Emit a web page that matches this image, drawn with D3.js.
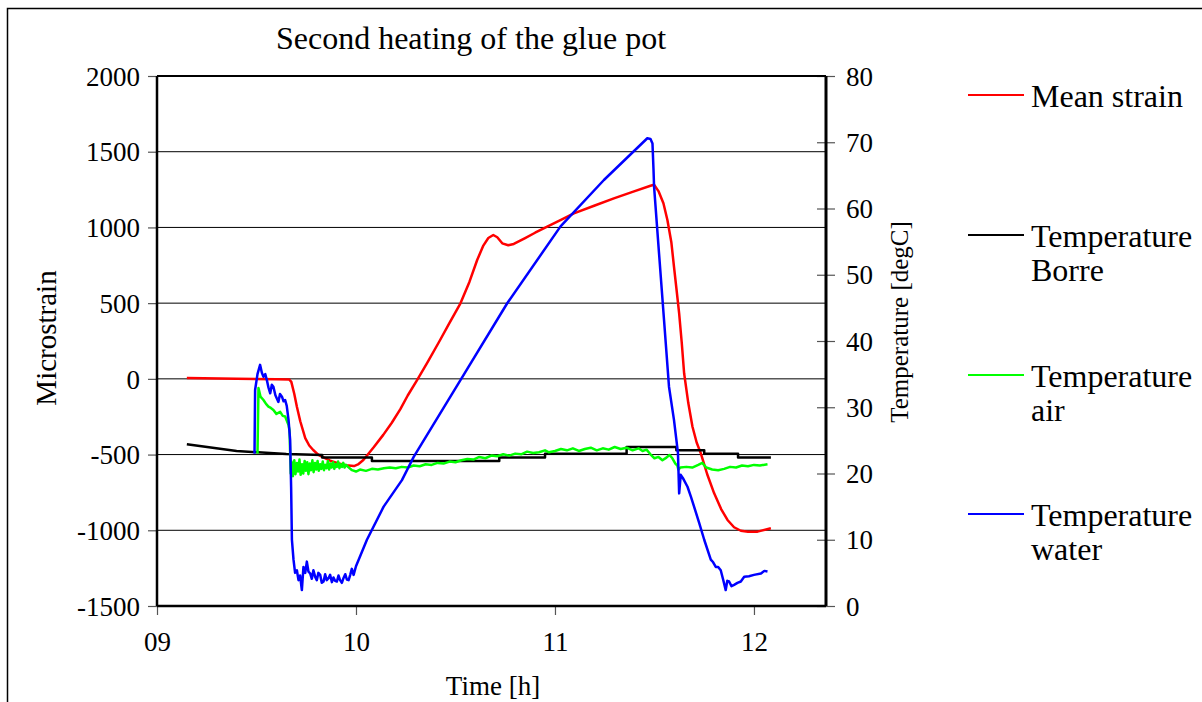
<!DOCTYPE html>
<html>
<head>
<meta charset="utf-8">
<script src="https://cdn.jsdelivr.net/npm/d3@7"></script>
<style>
  body { margin: 0; background: #fff; }
  text { font-family: "Liberation Serif", "Times New Roman", serif; fill: #000; }
</style>
</head>
<body>
<div id="chart"></div>
<script>
// Data: [time in hours, value]
var strainTicks = [-1500, -1000, -500, 0, 500, 1000, 1500, 2000];
var tempTicks = [0, 10, 20, 30, 40, 50, 60, 70, 80];
var timeTicks = [9, 10, 11, 12];
var timeLabels = ["09", "10", "11", "12"];

var meanStrain = [
  [9.15, 5], [9.40, 0], [9.60, -3], [9.665, -5], [9.675, -20], [9.69, -100], [9.703, -184],
  [9.72, -280], [9.745, -391], [9.765, -440], [9.785, -470], [9.81, -500], [9.829, -514],
  [9.87, -540], [9.904, -556], [9.95, -570], [9.99, -576], [10.01, -565], [10.037, -536],
  [10.09, -450], [10.137, -370], [10.18, -290], [10.223, -200], [10.26, -110], [10.307, -8],
  [10.36, 110], [10.42, 250], [10.47, 370], [10.525, 499], [10.57, 640], [10.609, 785],
  [10.64, 880], [10.665, 930], [10.69, 950], [10.71, 935], [10.735, 895], [10.765, 882],
  [10.793, 891], [10.85, 930], [10.9, 965], [10.961, 1005], [11.03, 1050], [11.095, 1093],
  [11.2, 1145], [11.296, 1192], [11.39, 1235], [11.48, 1275], [11.498, 1282], [11.52, 1240],
  [11.545, 1160], [11.565, 1049], [11.585, 900], [11.598, 741], [11.61, 600], [11.624, 433],
  [11.637, 240], [11.649, 37], [11.67, -160], [11.691, -316], [11.712, -420], [11.733, -492],
  [11.765, -630], [11.8, -756], [11.835, -860], [11.867, -932], [11.9, -980], [11.934, -1003],
  [11.97, -1010], [12.018, -1009], [12.085, -987]
];

var tempBorre = [
  [9.15, 24.4], [9.40, 23.4], [9.65, 22.95], [9.83, 22.8], [9.83, 22.4], [10.08, 22.4],
  [10.08, 21.9], [10.72, 21.9], [10.72, 22.4], [10.95, 22.4], [10.95, 23.0], [11.36, 23.0],
  [11.36, 24.0], [11.61, 24.0], [11.61, 23.5], [11.75, 23.5], [11.75, 23.0], [11.92, 23.0],
  [11.92, 22.4], [12.085, 22.4]
];

var tempAir = [
  [9.505, 23.0], [9.51, 32.9], [9.52, 31.6], [9.535, 31.1], [9.548, 30.5], [9.56, 30.1],
  [9.572, 29.9], [9.585, 29.6], [9.60, 29.0], [9.619, 29.3], [9.632, 28.7], [9.644, 28.6],
  [9.652, 28.0], [9.661, 27.3], [9.666, 26.5], [9.672, 20.0],
  [9.676, 21.8], [9.683, 19.6], [9.69, 22.0], [9.696, 19.9], [9.703, 21.6], [9.709, 20.3],
  [9.716, 22.1], [9.722, 19.8], [9.729, 21.4], [9.735, 20.0], [9.742, 21.9], [9.748, 20.4],
  [9.755, 21.7], [9.761, 19.9], [9.768, 21.5], [9.774, 20.5], [9.781, 22.0], [9.787, 20.2],
  [9.794, 21.6], [9.80, 20.6], [9.807, 21.9], [9.813, 20.4], [9.82, 21.4], [9.826, 20.7],
  [9.833, 21.8], [9.839, 20.5], [9.846, 21.3], [9.852, 20.8], [9.859, 21.9], [9.865, 20.6],
  [9.872, 21.5], [9.878, 20.9], [9.885, 21.7], [9.891, 20.7], [9.898, 21.4], [9.904, 21.0],
  [9.91, 21.8], [9.917, 20.8], [9.923, 21.4], [9.93, 21.0], [9.936, 21.6], [9.943, 20.9],
  [9.95, 21.3], [9.96, 21.0], [9.98, 20.5], [10.0, 20.3], [10.02, 20.6], [10.05, 20.4],
  [10.08, 20.7], [10.11, 20.6], [10.14, 20.8], [10.17, 20.9], [10.2, 20.8], [10.23, 21.0],
  [10.26, 20.9], [10.29, 21.2], [10.32, 21.1], [10.35, 21.4], [10.38, 21.3], [10.41, 21.6],
  [10.44, 21.5], [10.47, 21.8], [10.5, 21.7], [10.53, 22.0], [10.56, 22.2], [10.59, 22.1],
  [10.62, 22.5], [10.65, 22.3], [10.68, 22.7], [10.71, 22.6], [10.74, 22.9], [10.77, 22.7],
  [10.80, 23.0], [10.83, 22.9], [10.86, 23.3], [10.89, 23.1], [10.92, 23.2], [10.95, 23.5],
  [10.97, 23.2], [11.0, 23.4], [11.03, 23.7], [11.06, 23.5], [11.09, 23.8], [11.12, 23.4],
  [11.15, 23.7], [11.18, 23.9], [11.21, 23.5], [11.24, 23.8], [11.27, 23.6], [11.30, 24.0],
  [11.33, 23.7], [11.36, 23.9], [11.39, 23.5], [11.42, 23.8], [11.44, 23.4], [11.46, 23.6],
  [11.48, 22.9], [11.50, 22.3], [11.52, 22.5], [11.54, 22.0], [11.56, 22.4], [11.575, 22.8],
  [11.59, 22.3], [11.605, 21.5], [11.615, 21.2], [11.62, 20.6], [11.63, 20.9], [11.66, 21.0],
  [11.69, 20.9], [11.72, 21.3], [11.74, 21.6], [11.76, 20.9], [11.79, 20.6], [11.82, 20.5],
  [11.85, 20.7], [11.88, 21.0], [11.91, 20.9], [11.94, 21.2], [11.97, 21.1], [12.0, 21.3],
  [12.03, 21.2], [12.068, 21.4]
];

var tempWater = [
  [9.49, 23.0], [9.493, 32.6], [9.505, 35.0], [9.518, 36.4], [9.527, 35.2], [9.535, 34.6],
  [9.544, 35.0], [9.552, 34.1], [9.56, 33.0], [9.569, 32.1], [9.577, 33.4], [9.585, 33.1],
  [9.595, 31.8], [9.61, 30.8], [9.618, 32.0], [9.628, 31.6], [9.636, 30.9], [9.644, 31.1],
  [9.652, 30.2], [9.661, 28.1], [9.669, 25.1], [9.674, 18.0], [9.678, 10.0], [9.686, 7.0],
  [9.694, 5.0], [9.703, 5.4], [9.711, 3.9], [9.719, 4.6], [9.728, 2.4], [9.736, 5.9],
  [9.745, 5.0], [9.753, 6.7], [9.761, 5.2], [9.77, 4.9], [9.778, 4.1], [9.786, 5.4],
  [9.795, 4.4], [9.803, 3.9], [9.811, 5.0], [9.82, 4.7], [9.828, 3.5], [9.837, 3.7],
  [9.845, 4.8], [9.853, 3.9], [9.862, 4.2], [9.87, 4.7], [9.879, 3.6], [9.887, 4.3],
  [9.895, 3.8], [9.904, 3.7], [9.912, 4.6], [9.92, 3.9], [9.929, 3.5], [9.937, 4.2],
  [9.946, 4.8], [9.954, 4.0], [9.963, 3.9], [9.971, 4.7], [9.979, 5.6], [9.988, 4.7],
  [10.0, 6.0], [10.055, 10.0], [10.139, 15.0], [10.231, 19.0], [10.29, 22.5], [10.525, 34.1],
  [10.76, 45.7], [11.028, 57.3], [11.246, 64.3], [11.464, 70.6], [11.48, 70.5], [11.49, 69.8],
  [11.495, 66.0], [11.498, 63.3], [11.523, 53.2], [11.548, 43.2], [11.573, 33.1], [11.598, 28.1],
  [11.618, 23.1], [11.624, 17.0], [11.632, 19.8], [11.645, 19.2], [11.666, 18.0], [11.683, 16.5],
  [11.699, 15.0], [11.725, 12.5], [11.75, 10.0], [11.783, 7.0], [11.795, 6.6], [11.808, 5.9],
  [11.82, 5.9], [11.833, 5.4], [11.845, 4.0], [11.858, 2.4], [11.866, 3.8], [11.875, 3.7],
  [11.887, 3.0], [11.9, 3.2], [11.917, 3.5], [11.934, 3.7], [11.951, 4.4], [11.975, 4.5],
  [12.0, 4.7], [12.035, 4.9], [12.052, 5.3], [12.068, 5.2]
];

var legendNames = [["Mean strain"], ["Temperature", "Borre"], ["Temperature", "air"], ["Temperature", "water"]];
var legendColors = ["#ff0000", "#000000", "#00ff00", "#0000ff"];

// Set up the SVG canvas
var svgWidth = 1202;
var svgHeight = 702;
var plot = { left: 157, right: 826, top: 76, bottom: 606 };

var svg = d3.select("#chart")
    .append("svg")
    .attr("width", svgWidth)
    .attr("height", svgHeight);

// outer frame, only top and left edges visible
svg.append("rect")
    .attr("x", 7.5).attr("y", 8.5)
    .attr("width", 1300).attr("height", 800)
    .attr("fill", "none").attr("stroke", "#000").attr("stroke-width", 1.5);

var x = d3.scaleLinear().domain([9, 12.362]).range([plot.left, plot.right]);
var yStrain = d3.scaleLinear().domain([-1500, 2000]).range([plot.bottom, plot.top]);
var yTemp = d3.scaleLinear().domain([0, 80]).range([plot.bottom, plot.top]);

// gridlines
svg.append("g")
    .selectAll("line")
    .data(strainTicks)
    .join("line")
    .attr("x1", plot.left).attr("x2", plot.right)
    .attr("y1", d => yStrain(d)).attr("y2", d => yStrain(d))
    .attr("stroke", "#000").attr("stroke-width", 1);

// left axis
var leftAxis = svg.append("g")
    .attr("transform", "translate(" + plot.left + ",0)")
    .call(d3.axisLeft(yStrain).tickValues(strainTicks).tickFormat(d => String(d)).tickSize(9).tickPadding(8));

// right axis (ticks cross the line)
var rightAxis = svg.append("g")
    .attr("transform", "translate(" + plot.right + ",0)")
    .call(d3.axisRight(yTemp).tickValues(tempTicks).tickFormat(d => String(d)).tickSizeInner(9).tickSizeOuter(0).tickPadding(11));
rightAxis.selectAll(".tick line").attr("x1", -9);

// bottom axis
var bottomAxis = svg.append("g")
    .attr("transform", "translate(0," + plot.bottom + ")")
    .call(d3.axisBottom(x).tickValues(timeTicks).tickFormat((d, i) => timeLabels[i]).tickSize(9).tickPadding(17));

[leftAxis, rightAxis, bottomAxis].forEach(function(a) {
    a.select(".domain").remove();
    a.selectAll(".tick line").attr("stroke", "#555").attr("stroke-width", 1.2);
    a.selectAll("text")
        .style("font-family", "Liberation Serif, serif")
        .style("font-size", "27px")
        .attr("fill", "#000");
});
leftAxis.selectAll("text").attr("dy", "0.34em");
rightAxis.selectAll("text").attr("dy", "0.34em");

// plot area border lines
svg.append("line").attr("x1", plot.left).attr("x2", plot.right).attr("y1", plot.top).attr("y2", plot.top)
    .attr("stroke", "#000").attr("stroke-width", 2);
svg.append("line").attr("x1", plot.left).attr("x2", plot.right).attr("y1", plot.bottom).attr("y2", plot.bottom)
    .attr("stroke", "#000").attr("stroke-width", 2.5);
svg.append("line").attr("x1", plot.left).attr("x2", plot.left).attr("y1", plot.top).attr("y2", plot.bottom)
    .attr("stroke", "#000").attr("stroke-width", 2.5);
svg.append("line").attr("x1", plot.right).attr("x2", plot.right).attr("y1", plot.top).attr("y2", plot.bottom)
    .attr("stroke", "#000").attr("stroke-width", 3);

// series lines
svg.append("clipPath").attr("id", "clip")
    .append("rect")
    .attr("x", plot.left).attr("y", plot.top)
    .attr("width", plot.right - plot.left).attr("height", plot.bottom - plot.top);

var strainLine = d3.line().x(d => x(d[0])).y(d => yStrain(d[1]));
var tempLine = d3.line().x(d => x(d[0])).y(d => yTemp(d[1]));

var series = [
    { data: meanStrain, line: strainLine, color: legendColors[0] },
    { data: tempBorre, line: tempLine, color: legendColors[1] },
    { data: tempAir, line: tempLine, color: legendColors[2] },
    { data: tempWater, line: tempLine, color: legendColors[3] }
];

var lines = svg.append("g").attr("clip-path", "url(#clip)");
series.forEach(function(s) {
    lines.append("path")
        .datum(s.data)
        .attr("d", s.line)
        .attr("fill", "none")
        .attr("stroke", s.color)
        .attr("stroke-width", 2.5)
        .attr("stroke-linejoin", "round");
});

// titles
svg.append("text")
    .attr("x", 471).attr("y", 49)
    .attr("text-anchor", "middle")
    .style("font-size", "32px")
    .text("Second heating of the glue pot");

svg.append("text")
    .attr("transform", "translate(56,338) rotate(-90)")
    .attr("text-anchor", "middle")
    .style("font-size", "29px")
    .text("Microstrain");

svg.append("text")
    .attr("transform", "translate(908,322) rotate(-90)")
    .attr("text-anchor", "middle")
    .style("font-size", "25px")
    .text("Temperature [degC]");

svg.append("text")
    .attr("x", 493).attr("y", 695)
    .attr("text-anchor", "middle")
    .style("font-size", "27px")
    .text("Time [h]");

// legend
var legendY = [95, 235, 375, 514];
var legend = svg.append("g");
legendNames.forEach(function(names, i) {
    legend.append("line")
        .attr("x1", 968).attr("x2", 1024)
        .attr("y1", legendY[i]).attr("y2", legendY[i])
        .attr("stroke", legendColors[i]).attr("stroke-width", 2);
    names.forEach(function(n, j) {
        legend.append("text")
            .attr("x", 1031)
            .attr("y", legendY[i] + 12 + j * 34)
            .style("font-size", "32px")
            .text(n);
    });
});
</script>
</body>
</html>
